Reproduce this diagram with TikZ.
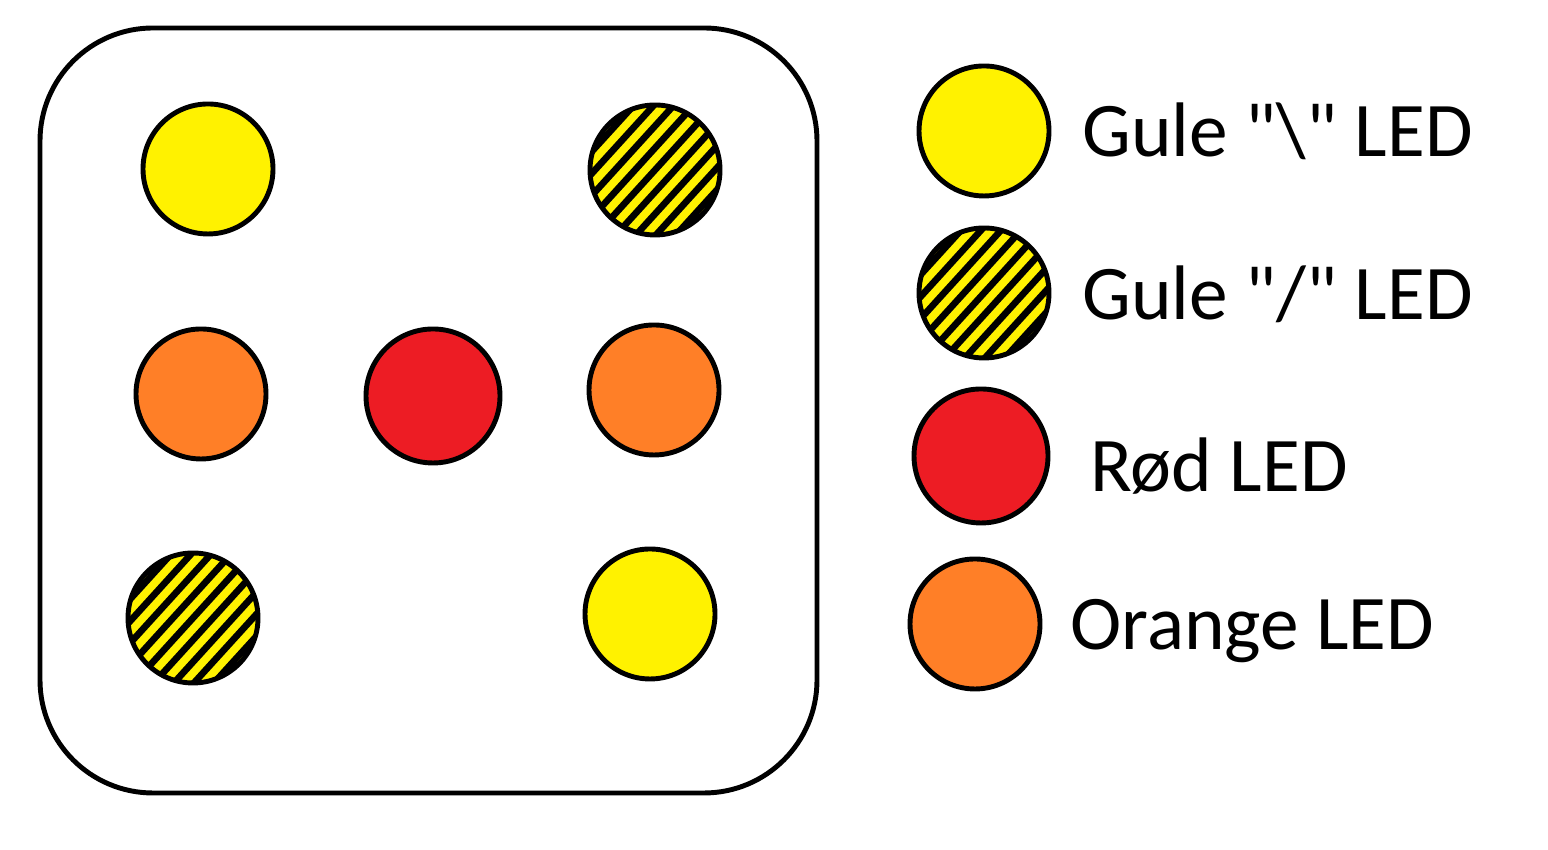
\documentclass[tikz,border=0pt]{standalone}
\usepackage{fontspec}
\setmainfont{Carlito}[Ligatures=TeXOff]
\definecolor{ledyellow}{RGB}{255,242,0}
\definecolor{ledorange}{RGB}{255,127,39}
\definecolor{ledred}{RGB}{237,28,36}
\begin{document}
\begin{tikzpicture}[line width=1.4pt,
    led/.style={circle,draw,minimum size=1.3cm,inner sep=0pt},
    hatched/.style={led,fill=ledyellow,path picture={
        \foreach \i in {-8,...,8}
          \draw[line width=1.9pt] ([shift={(\i*0.2-1,-1.1)}]path picture bounding box.center) -- ++(2,2.2);}},
    legend text/.style={anchor=base west,inner sep=0pt,font=\fontsize{22}{26}\selectfont}]

  \useasboundingbox (0,0) rectangle (15.48,8.5);

  % the board
  \draw[rounded corners=1.13cm] (0.40,8.22) rectangle (8.17,0.57);

  \node[led,fill=ledyellow] (tl) at (2.08,6.81) {};
  \node[hatched] (tr) at (6.55,6.80) {};
  \node[led,fill=ledorange] (ml) at (2.01,4.56) {};
  \node[led,fill=ledred,minimum size=1.34cm] (mc) at (4.33,4.54) {};
  \node[led,fill=ledorange] (mr) at (6.54,4.60) {};
  \node[hatched] (bl) at (1.93,2.32) {};
  \node[led,fill=ledyellow] (br) at (6.50,2.36) {};

  % legend
  \node[led,fill=ledyellow] (ly) at (9.84,7.19) {};
  \node[hatched] (lh) at (9.84,5.57) {};
  \node[led,fill=ledred,minimum size=1.34cm] (lr) at (9.81,3.94) {};
  \node[led,fill=ledorange] (lo) at (9.75,2.26) {};

  \node[legend text] (tly) at (10.80,6.93) {Gule "\textbackslash" LED};
  \node[legend text] (tlh) at (10.80,5.30) {Gule "/" LED};
  \node[legend text] (tlr) at (10.88,3.58) {Rød LED};
  \node[legend text] (tlo) at (10.68,2.00) {Orange LED};
\end{tikzpicture}
\end{document}
